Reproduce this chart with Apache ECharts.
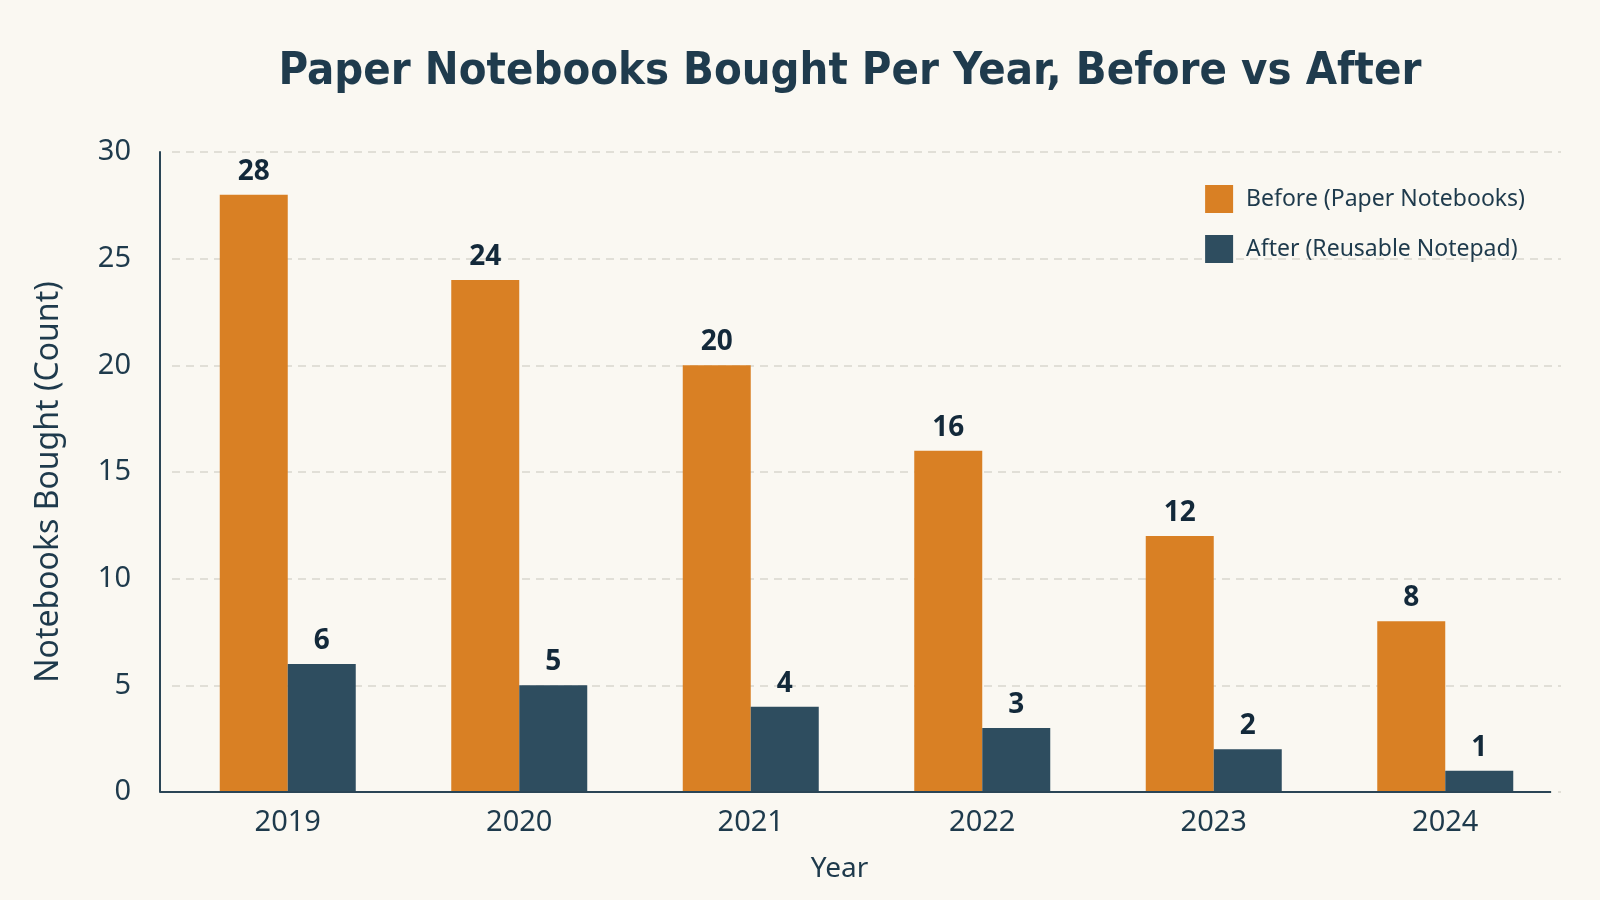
<!DOCTYPE html>
<html><head><meta charset="utf-8">
<script src="https://cdn.jsdelivr.net/npm/echarts@6/dist/echarts.min.js"></script>
<style>html,body{margin:0;padding:0;background:#FAF8F2}#c{width:1600px;height:900px}</style>
</head><body><div id="c"></div>
<script>
const years = ['2019','2020','2021','2022','2023','2024'];
const beforeVals = [28,24,20,16,12,8];
const afterVals = [6,5,4,3,2,1];
const seriesNames = ['Before (Paper Notebooks)','After (Reusable Notepad)'];
const txt = '#1E3A4C';
const F = 'Noto Sans';
const chart = echarts.init(document.getElementById('c'));
const lbl = {show:true, position:'top', distance:9, color:'#13293a', fontSize:28, fontWeight:'bold', fontFamily:F};
chart.setOption({
  backgroundColor:'#FAF8F2',
  title:{text:'Paper Notebooks Bought Per Year, Before vs After', left:845, textAlign:'center', top:45,
    textStyle:{fontFamily:'DejaVu Sans Condensed', fontWeight:'bold', fontSize:45, color:'#1F3B4D'}},
  legend:{right:70, top:180, orient:'vertical', itemWidth:28, itemHeight:28, itemGap:22, icon:'rect',
    textStyle:{fontFamily:F, fontSize:23, color:txt, padding:[0,0,0,8]}},
  grid:{left:172, right:39, top:152, bottom:108},
  xAxis:{type:'category', data:years, name:'Year', nameLocation:'middle', nameGap:63,
    nameTextStyle:{fontFamily:F, fontSize:28, color:txt, padding:[0,54,0,0]},
    axisLine:{show:false}, axisTick:{show:false},
    axisLabel:{fontFamily:F, fontSize:29, color:txt, margin:16}},
  yAxis:{type:'value', min:0, max:30, interval:5, offset:12, name:'Notebooks Bought (Count)', nameLocation:'middle', nameGap:95,
    nameTextStyle:{fontFamily:F, fontSize:32, color:txt, padding:[0,20,0,0]},
    axisLine:{show:true, lineStyle:{color:'#2A4556', width:2}}, axisTick:{show:false},
    axisLabel:{fontFamily:F, fontSize:29, color:txt, margin:29},
    splitLine:{lineStyle:{type:[8,6], color:'#D9D6CE', width:1.5}}},
  series:[
    {name:seriesNames[0], type:'bar', data:beforeVals, barWidth:68, barGap:'0%', itemStyle:{color:'#D98024'}, label:lbl},
    {name:seriesNames[1], type:'bar', data:afterVals, barWidth:68, itemStyle:{color:'#2E4D5F'}, label:lbl}
  ]
});
const y0 = chart.convertToPixel({yAxisIndex:0}, 0);
chart.setOption({graphic:[{type:'line', shape:{x1:160, y1:y0, x2:1551, y2:y0}, style:{stroke:'#2A4556', lineWidth:2}, z:10}]});
</script></body></html>
